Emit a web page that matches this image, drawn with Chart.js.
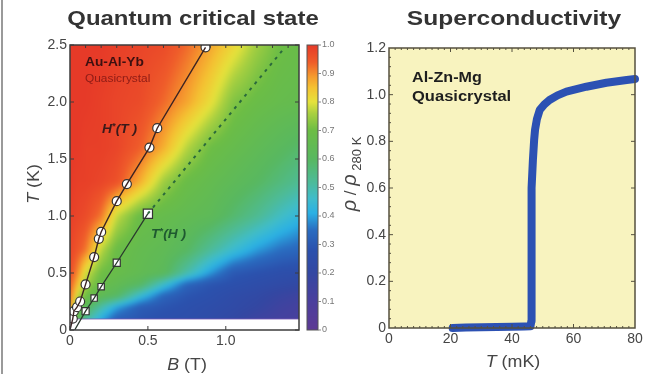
<!DOCTYPE html>
<html>
<head>
<meta charset="utf-8">
<script src="https://cdn.jsdelivr.net/npm/chart.js@4.4.1/dist/chart.umd.min.js"></script>
<style>
html, body { margin: 0; padding: 0; background: #fff; }
#quadro { position: relative; width: 668px; height: 374px; overflow: hidden; }
#caixaQC { position: absolute; left: 0; top: 0; width: 345px; height: 374px; }
#caixaSC { position: absolute; left: 340px; top: 0; width: 328px; height: 374px; }
#borda { position: absolute; left: 1px; top: 0; width: 2px; height: 374px; background: #9a9a9a; }
</style>
</head>
<body>
<div id="quadro">
  <div id="caixaQC"><canvas id="graficoQC" width="345" height="374"></canvas></div>
  <div id="caixaSC"><canvas id="graficoSC" width="328" height="374"></canvas></div>
  <div id="borda"></div>
</div>
<script>
// ---------- dados ----------
// mapa de cores (Au-Al-Yb): colunas = campo B (T), linhas = temperatura T (K)
const campoB = [0, 0.05, 0.1, 0.2, 0.3, 0.45, 0.6, 0.75, 0.9, 1.05, 1.2, 1.35, 1.5];
const tempK = [0.1, 0.2, 0.3, 0.4, 0.5, 0.7, 1.0, 1.3, 1.6, 2.0, 2.5];
const rhoMapa = [
  [0.86, 0.62, 0.52, 0.41, 0.32, 0.29, 0.27, 0.26, 0.24, 0.21, 0.16, 0.13, 0.11],
  [0.90, 0.70, 0.62, 0.50, 0.40, 0.31, 0.29, 0.27, 0.25, 0.23, 0.20, 0.15, 0.12],
  [0.93, 0.78, 0.70, 0.64, 0.60, 0.45, 0.33, 0.29, 0.27, 0.24, 0.22, 0.18, 0.15],
  [0.95, 0.85, 0.75, 0.68, 0.65, 0.60, 0.46, 0.33, 0.29, 0.27, 0.25, 0.23, 0.21],
  [0.97, 0.90, 0.79, 0.70, 0.68, 0.65, 0.62, 0.50, 0.39, 0.30, 0.28, 0.26, 0.25],
  [0.98, 0.95, 0.92, 0.77, 0.69, 0.66, 0.64, 0.60, 0.52, 0.45, 0.39, 0.35, 0.33],
  [0.99, 0.98, 0.97, 0.92, 0.78, 0.69, 0.67, 0.65, 0.63, 0.58, 0.53, 0.47, 0.42],
  [1.00, 0.99, 0.99, 0.98, 0.96, 0.87, 0.75, 0.69, 0.66, 0.63, 0.60, 0.56, 0.52],
  [1.00, 1.00, 0.99, 0.99, 0.98, 0.94, 0.87, 0.77, 0.70, 0.67, 0.64, 0.61, 0.58],
  [1.00, 1.00, 1.00, 0.99, 0.98, 0.97, 0.93, 0.88, 0.81, 0.72, 0.69, 0.67, 0.66],
  [1.00, 1.00, 1.00, 1.00, 0.99, 0.98, 0.97, 0.93, 0.88, 0.82, 0.75, 0.70, 0.68]
];
// H*(T): círculos
const hEstrelaB = [0.018, 0.025, 0.045, 0.065, 0.10, 0.155, 0.185, 0.20, 0.30, 0.365, 0.51, 0.56, 0.87];
const hEstrelaT = [0.10, 0.165, 0.20, 0.25, 0.40, 0.64, 0.80, 0.86, 1.13, 1.28, 1.60, 1.77, 2.48];
// T*(H): quadrados
const tEstrelaB = [0.10, 0.155, 0.20, 0.30, 0.50];
const tEstrelaT = [0.165, 0.28, 0.38, 0.59, 1.02];
// prolongamento tracejado de T*(H)
const tExtraB = [0.50, 1.38];
const tExtraT = [1.02, 2.48];

const ticksB = [0, 0.5, 1.0];
const ticksT = [0, 0.5, 1.0, 1.5, 2.0, 2.5];
const ticksBarra = [0, 0.1, 0.2, 0.3, 0.4, 0.5, 0.6, 0.7, 0.8, 0.9, 1.0];

// supercondutividade (Al-Zn-Mg)
const tempMK = [20.7, 25, 30, 35, 40, 44, 46.0, 46.3, 46.3, 46.3, 46.5, 46.8, 47.2, 47.5, 48.1, 49.0, 50.5, 52.2, 54.8, 57.7, 64.2, 70.7, 77.3, 80];
const rhoNorm = [0.0, 0.002, 0.003, 0.004, 0.005, 0.006, 0.007, 0.03, 0.2, 0.4, 0.6, 0.72, 0.806, 0.85, 0.895, 0.934, 0.958, 0.977, 0.997, 1.013, 1.034, 1.051, 1.063, 1.067];
const ticksMK = [0, 20, 40, 60, 80];
const ticksRho = [0, 0.2, 0.4, 0.6, 0.8, 1.0, 1.2];

// ---------- estilos ----------
const FONTE = '"Liberation Sans", Arial, sans-serif';
const COR_TEXTO = '#454545';
const escalaCores = [
  [0.00, '#5d3a94'], [0.10, '#4b3f9d'], [0.20, '#3347a2'], [0.28, '#2b51ad'],
  [0.35, '#2a6cc0'], [0.41, '#2ab0e4'], [0.46, '#3fbccb'], [0.52, '#4dbb98'],
  [0.60, '#58b860'], [0.70, '#6cbd45'], [0.76, '#a9d040'], [0.80, '#e5e23b'],
  [0.85, '#f4c232'], [0.89, '#f59a2e'], [0.94, '#ef5c2a'], [1.00, '#e63a28']
].map(p => [p[0], parseInt(p[1].slice(1, 3), 16), parseInt(p[1].slice(3, 5), 16), parseInt(p[1].slice(5, 7), 16)]);

function corDoValor(v) {
  v = Math.max(0, Math.min(1, v));
  for (let k = 0; k < escalaCores.length - 1; k++) {
    const a = escalaCores[k], b = escalaCores[k + 1];
    if (v <= b[0]) {
      const f = (v - a[0]) / (b[0] - a[0]);
      return [a[1] + (b[1] - a[1]) * f, a[2] + (b[2] - a[2]) * f, a[3] + (b[3] - a[3]) * f];
    }
  }
  const u = escalaCores[escalaCores.length - 1];
  return [u[1], u[2], u[3]];
}

function achar(arr, v) {
  let k = 0;
  while (k < arr.length - 2 && v > arr[k + 1]) k++;
  return k;
}

// leitura bilinear da grade para pintar os pixels
function valorMapa(b, t) {
  const i = achar(campoB, b), j = achar(tempK, t);
  const fb = Math.max(0, Math.min(1, (b - campoB[i]) / (campoB[i + 1] - campoB[i])));
  const ft = Math.max(0, Math.min(1, (t - tempK[j]) / (tempK[j + 1] - tempK[j])));
  return rhoMapa[j][i] * (1 - fb) * (1 - ft) + rhoMapa[j][i + 1] * fb * (1 - ft) +
         rhoMapa[j + 1][i] * (1 - fb) * ft + rhoMapa[j + 1][i + 1] * fb * ft;
}

function textoMisto(ctx, partes, x, y, alinhar, esticar, cor) {
  let larg = 0;
  partes.forEach(p => { ctx.font = p[1]; larg += ctx.measureText(p[0]).width; });
  ctx.save();
  ctx.translate(x, y);
  ctx.scale(esticar || 1, 1);
  ctx.fillStyle = cor || COR_TEXTO;
  ctx.textAlign = 'left';
  ctx.textBaseline = 'alphabetic';
  let cx = alinhar === 'center' ? -larg / 2 : 0;
  partes.forEach(p => {
    ctx.font = p[1];
    ctx.fillText(p[0], cx, p[2] || 0);
    cx += ctx.measureText(p[0]).width;
  });
  ctx.restore();
}

function pontos(xs, ys) { return xs.map((v, i) => ({ x: v, y: ys[i] })); }
function fmt(v) { return v === 0 ? '0' : v.toFixed(1); }

// ---------- plugins ----------
const mapaCalor = {
  id: 'mapaCalor',
  beforeDatasetsDraw(chart) {
    const { ctx, chartArea: a, scales: { x, y } } = chart;
    const x0 = Math.round(x.getPixelForValue(0)), x1 = Math.round(a.right);
    const y0 = Math.round(y.getPixelForValue(tempK[tempK.length - 1])), y1 = Math.round(y.getPixelForValue(tempK[0]));
    const w = x1 - x0, h = y1 - y0, m = 10;
    // pinta numa tela auxiliar com margem, depois suaviza um pouco
    const aux = document.createElement('canvas');
    aux.width = w + 2 * m; aux.height = h + 2 * m;
    const actx = aux.getContext('2d');
    const img = actx.createImageData(aux.width, aux.height);
    for (let py = 0; py < aux.height; py++) {
      const t = Math.max(tempK[0], y.getValueForPixel(y0 - m + py + 0.5));
      for (let px = 0; px < aux.width; px++) {
        const b = Math.max(0, x.getValueForPixel(x0 - m + px + 0.5));
        const c = corDoValor(valorMapa(b, t));
        const k = (py * aux.width + px) * 4;
        img.data[k] = c[0]; img.data[k + 1] = c[1]; img.data[k + 2] = c[2]; img.data[k + 3] = 255;
      }
    }
    actx.putImageData(img, 0, 0);
    ctx.save();
    ctx.beginPath();
    ctx.rect(x0, y0, w, h);
    ctx.clip();
    ctx.filter = 'blur(2.5px)';
    ctx.drawImage(aux, x0 - m, y0 - m);
    ctx.filter = 'none';
    ctx.restore();
    // borda inferior do mapa
    ctx.save();
    ctx.strokeStyle = 'rgba(120,90,180,0.8)';
    ctx.lineWidth = 1.2;
    ctx.beginPath();
    ctx.moveTo(x0, y1);
    ctx.lineTo(x1, y1);
    ctx.stroke();
    ctx.restore();
  },
  afterDraw(chart) {
    const { ctx, chartArea: a, scales: { x, y, cb } } = chart;
    ctx.save();
    // moldura e marcas internas
    ctx.strokeStyle = '#3c3c3c';
    ctx.lineWidth = 1.5;
    ctx.strokeRect(a.left, a.top, a.right - a.left, a.bottom - a.top);
    ctx.lineWidth = 1;
    ctx.beginPath();
    ticksB.forEach(v => { const p = x.getPixelForValue(v); ctx.moveTo(p, a.bottom); ctx.lineTo(p, a.bottom - 4); });
    for (let v = 0.1; v < 1.47; v += 0.1) { const p = x.getPixelForValue(v); ctx.moveTo(p, a.top); ctx.lineTo(p, a.top + 3); }
    ticksT.forEach(v => {
      const p = y.getPixelForValue(v);
      ctx.moveTo(a.left, p); ctx.lineTo(a.left + 4, p);
      ctx.moveTo(a.right, p); ctx.lineTo(a.right - 4, p);
    });
    ctx.stroke();
    // barra de cores
    const bx0 = 307, bx1 = 318;
    const by0 = Math.round(cb.getPixelForValue(1)), by1 = Math.round(cb.getPixelForValue(0));
    for (let py = by0; py < by1; py++) {
      const c = corDoValor(cb.getValueForPixel(py + 0.5));
      ctx.fillStyle = 'rgb(' + c.map(Math.round).join(',') + ')';
      ctx.fillRect(bx0, py, bx1 - bx0, 1);
    }
    ctx.strokeStyle = '#555';
    ctx.lineWidth = 1;
    ctx.strokeRect(bx0, by0, bx1 - bx0, by1 - by0);
    ctx.strokeStyle = '#888';
    ctx.beginPath();
    ticksBarra.forEach(v => { const p = cb.getPixelForValue(v); ctx.moveTo(bx1, p); ctx.lineTo(bx1 + 3, p); });
    ctx.stroke();
    ctx.restore();

    // textos
    textoMisto(ctx, [['Quantum critical state', 'bold 21px ' + FONTE]], 193, 25, 'center', 1.14, '#333');
    textoMisto(ctx, [['B', 'italic 17px ' + FONTE], [' (T)', '17px ' + FONTE]], 187, 370, 'center', 1.05);
    ctx.save();
    ctx.translate(39, 184);
    ctx.rotate(-Math.PI / 2);
    textoMisto(ctx, [['T', 'italic 17px ' + FONTE], [' (K)', '17px ' + FONTE]], 0, 0, 'center', 1.05);
    ctx.restore();
    textoMisto(ctx, [['Au-Al-Yb', 'bold 12.5px ' + FONTE]], 85, 66, 'left', 1.1, '#3c1010');
    textoMisto(ctx, [['Quasicrystal', '11px ' + FONTE]], 85, 82, 'left', 1.08, '#8e1c16');
    textoMisto(ctx, [['H', 'bold italic 12.5px ' + FONTE], ['*', 'bold 9px ' + FONTE, -4], ['(T )', 'bold italic 12.5px ' + FONTE]], 102, 133, 'left', 1.1, '#3a1a1a');
    textoMisto(ctx, [['T', 'bold italic 12.5px ' + FONTE], ['*', 'bold 9px ' + FONTE, -4], ['(H )', 'bold italic 12.5px ' + FONTE]], 151, 238, 'left', 1.1, '#1f5a30');
  }
};

const fundoSC = {
  id: 'fundoSC',
  beforeDraw(chart) {
    const { ctx, chartArea: a } = chart;
    ctx.save();
    ctx.fillStyle = '#f8f3bf';
    ctx.fillRect(a.left, a.top, a.right - a.left, a.bottom - a.top);
    ctx.restore();
  },
  afterDraw(chart) {
    const { ctx, chartArea: a, scales: { x, y } } = chart;
    ctx.save();
    ctx.strokeStyle = '#55503f';
    ctx.lineWidth = 1.5;
    ctx.strokeRect(a.left, a.top, a.right - a.left, a.bottom - a.top);
    ctx.lineWidth = 1;
    ctx.beginPath();
    for (let v = 2; v < 80; v += 2) {
      const p = x.getPixelForValue(v);
      const len = v % 20 === 0 ? 4 : 2;
      ctx.moveTo(p, a.bottom); ctx.lineTo(p, a.bottom - len);
      ctx.moveTo(p, a.top); ctx.lineTo(p, a.top + len);
    }
    for (let k = 1; k < 30; k++) {
      const v = k * 0.04;
      const p = y.getPixelForValue(v);
      const major = k % 5 === 0;
      ctx.moveTo(a.left, p); ctx.lineTo(a.left + (major ? 4 : 2), p);
      if (major) { ctx.moveTo(a.right, p); ctx.lineTo(a.right - 4, p); }
    }
    ctx.stroke();
    ctx.restore();

    textoMisto(ctx, [['Superconductivity', 'bold 21px ' + FONTE]], 174, 25, 'center', 1.17, '#333');
    textoMisto(ctx, [['Al-Zn-Mg', 'bold 14px ' + FONTE]], 72, 82, 'left', 1.15, '#1e1e1e');
    textoMisto(ctx, [['Quasicrystal', 'bold 14px ' + FONTE]], 72, 101, 'left', 1.18, '#1e1e1e');
    textoMisto(ctx, [['T', 'italic 17px ' + FONTE], [' (mK)', '17px ' + FONTE]], 173, 367, 'center', 1.05);
    ctx.save();
    ctx.translate(16, 174);
    ctx.rotate(-Math.PI / 2);
    textoMisto(ctx, [['ρ', 'italic 20px ' + FONTE], [' / ', '17px ' + FONTE], ['ρ', 'italic 20px ' + FONTE], [' 280 K', '13px ' + FONTE, 5]], 0, 0, 'center', 1.0);
    ctx.restore();
  }
};

const fonteTick = { family: FONTE, size: 14 };

// ---------- gráfico: estado crítico quântico ----------
new Chart(document.getElementById('graficoQC'), {
  type: 'scatter',
  data: {
    datasets: [
      {
        data: [{ x: 0, y: 0 }].concat(pontos(hEstrelaB, hEstrelaT)),
        showLine: true, borderColor: '#3b2323', borderWidth: 1.4, pointRadius: 0, order: 0
      },
      {
        data: [{ x: 0.03, y: 0 }].concat(pontos(tEstrelaB, tEstrelaT)),
        showLine: true, borderColor: '#2a3a2e', borderWidth: 1.3, pointRadius: 0, order: 0
      },
      {
        data: pontos(tExtraB, tExtraT),
        showLine: true, borderColor: '#2a6a3c', borderWidth: 2, borderDash: [3, 5], pointRadius: 0, order: 0
      },
      {
        data: pontos(hEstrelaB, hEstrelaT),
        pointStyle: 'circle', pointRadius: 4.5, pointBackgroundColor: '#fff',
        pointBorderColor: '#333', pointBorderWidth: 1.2, order: 1
      },
      {
        data: pontos(tEstrelaB, tEstrelaT),
        pointStyle: 'rect', pointRadius: [5, 4.5, 4.5, 5, 6.5], pointBackgroundColor: '#fff',
        pointBorderColor: '#333', pointBorderWidth: 1.2, order: 1
      }
    ]
  },
  options: {
    responsive: false,
    animation: false,
    layout: { padding: { top: 45, right: 6, bottom: 0, left: 0 } },
    plugins: { legend: { display: false }, tooltip: { enabled: false } },
    scales: {
      x: {
        type: 'linear', min: 0, max: 1.47,
        afterBuildTicks: s => { s.ticks = ticksB.map(v => ({ value: v })); },
        afterFit: s => { s.height = 44; },
        ticks: { callback: v => fmt(v), font: fonteTick, color: COR_TEXTO, padding: 3, maxRotation: 0 },
        grid: { display: false, drawTicks: false },
        border: { display: false }
      },
      y: {
        type: 'linear', min: 0, max: 2.5,
        afterBuildTicks: s => { s.ticks = ticksT.map(v => ({ value: v })); },
        afterFit: s => { s.width = 70; },
        ticks: { callback: v => fmt(v), font: fonteTick, color: COR_TEXTO, padding: 3 },
        grid: { display: false, drawTicks: false },
        border: { display: false }
      },
      cb: {
        type: 'linear', position: 'right', min: 0, max: 1,
        afterBuildTicks: s => { s.ticks = ticksBarra.map(v => ({ value: v })); },
        afterFit: s => { s.width = 40; },
        ticks: { callback: v => fmt(v), font: { family: FONTE, size: 9 }, color: '#777', padding: 23 },
        grid: { display: false, drawTicks: false },
        border: { display: false }
      }
    }
  },
  plugins: [mapaCalor]
});

// ---------- gráfico: supercondutividade ----------
new Chart(document.getElementById('graficoSC'), {
  type: 'line',
  data: {
    datasets: [{
      data: pontos(tempMK, rhoNorm),
      borderColor: '#2c51b3', borderWidth: 8, pointRadius: 0,
      borderCapStyle: 'round', borderJoinStyle: 'round', tension: 0, clip: false
    }]
  },
  options: {
    responsive: false,
    animation: false,
    layout: { padding: { top: 48, right: 33, bottom: 0, left: 0 } },
    plugins: { legend: { display: false }, tooltip: { enabled: false } },
    scales: {
      x: {
        type: 'linear', min: 0, max: 80,
        afterBuildTicks: s => { s.ticks = ticksMK.map(v => ({ value: v })); },
        afterFit: s => { s.height = 46; },
        ticks: { callback: v => String(v), font: fonteTick, color: COR_TEXTO, padding: 3, maxRotation: 0 },
        grid: { display: false, drawTicks: false },
        border: { display: false }
      },
      y: {
        type: 'linear', min: 0, max: 1.2,
        afterBuildTicks: s => { s.ticks = ticksRho.map(v => ({ value: v })); },
        afterFit: s => { s.width = 49; },
        ticks: { callback: v => fmt(v), font: fonteTick, color: COR_TEXTO, padding: 3 },
        grid: { display: false, drawTicks: false },
        border: { display: false }
      }
    }
  },
  plugins: [fundoSC]
});
</script>
</body>
</html>
